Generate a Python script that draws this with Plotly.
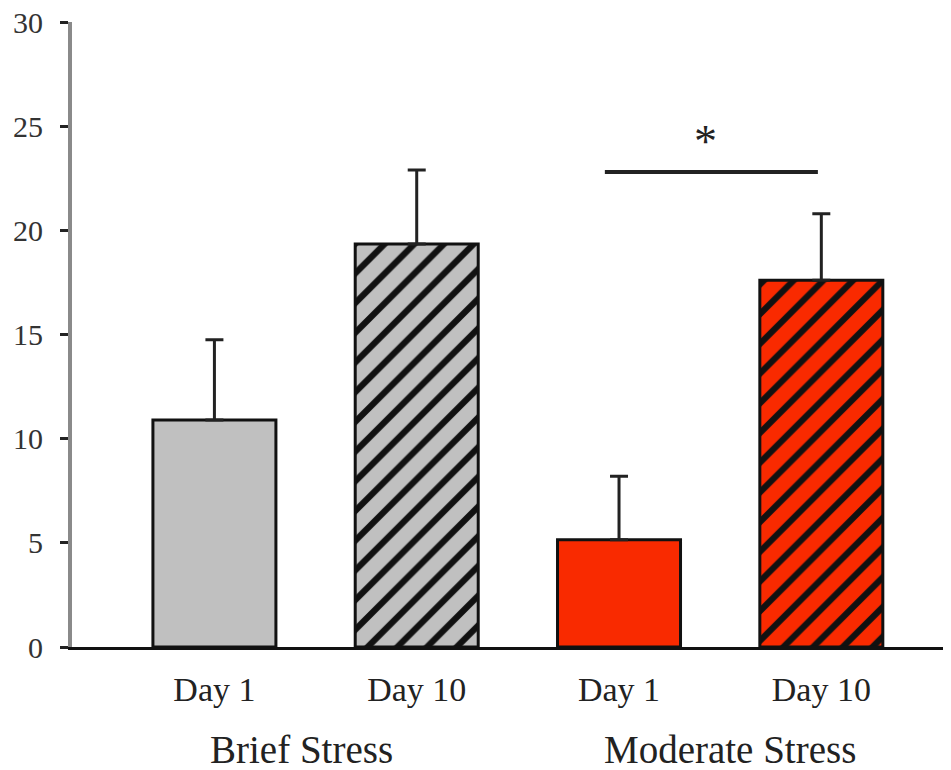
import plotly.graph_objects as go

day_labels = ["Day 1", "Day 10", "Day 1", "Day 10"]
group_labels = ["Brief Stress", "Moderate Stress"]
group_centers = [0.43, 2.55]
means = [10.9, 19.35, 5.15, 17.6]
errors = [3.85, 3.55, 3.05, 3.2]
fill_colors = ["#c0c0c0", "#c0c0c0", "#f92a00", "#f92a00"]
hatch = ["", "/", "", "/"]
sig_y = 22.8
y_ticks = [0, 5, 10, 15, 20, 25, 30]

pos = list(range(len(means)))
FONT = "Liberation Serif, Times New Roman, serif"

fig = go.Figure()
for i in pos:
    fig.add_trace(go.Bar(
        x=[pos[i]], y=[means[i]], width=0.608,
        marker=dict(
            color=fill_colors[i],
            line=dict(color="#111111", width=3),
            pattern=dict(shape=hatch[i], fgcolor="#111111", bgcolor=fill_colors[i],
                         size=21, solidity=0.3, fillmode="replace"),
        ),
        error_y=dict(type="data", array=[errors[i]], arrayminus=[0],
                     symmetric=False, color="#222222", thickness=3, width=9),
        showlegend=False,
    ))

# significance bar
fig.add_shape(type="line", xref="x", yref="y", x0=1.93, x1=2.983, y0=sig_y, y1=sig_y,
              line=dict(color="#222222", width=4))
fig.add_annotation(x=2.425, y=24.25, xref="x", yref="y", text="*", showarrow=False,
                   font=dict(family=FONT, size=46, color="#222222"), yanchor="middle")

# group labels
for g, gx in zip(group_labels, group_centers):
    fig.add_annotation(x=gx, y=0, xref="x", yref="paper", yshift=-102,
                       text=g, showarrow=False, yanchor="middle",
                       font=dict(family=FONT, size=39, color="#222222"))

fig.update_layout(
    width=943, height=762,
    margin=dict(l=64, r=0, t=14, b=123, autoexpand=False),
    paper_bgcolor="white", plot_bgcolor="white",
    barmode="overlay",
    xaxis=dict(range=[-0.704, 3.641], tickmode="array", tickvals=pos, ticktext=day_labels,
               showline=True, linecolor="#111111", linewidth=3, ticks="",
               tickfont=dict(family=FONT, size=34, color="#222222"),
               automargin=False,
               showgrid=False, zeroline=False, ticklabelstandoff=10),
    yaxis=dict(range=[0, 30], tickvals=y_ticks, showline=True, linecolor="#8a8a8a", linewidth=4,
               ticks="outside", ticklen=8, tickwidth=3, tickcolor="#222222",
               tickfont=dict(family=FONT, size=30, color="#333333"),
               ticklabeloverflow="allow", automargin=False,
               showgrid=False, zeroline=False, ticklabelstandoff=11),
)

fig.write_html("out.html")
